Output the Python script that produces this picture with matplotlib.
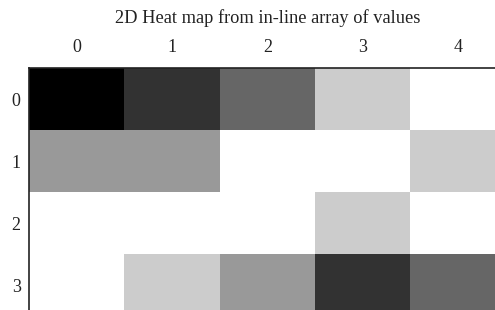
import matplotlib.pyplot as plt
import numpy as np

plt.rcParams["font.family"] = ["Liberation Serif", "DejaVu Serif"]

TITLE = "2D Heat map from in-line array of values"
X_TICKS = [0, 1, 2, 3, 4]
Y_TICKS = [0, 1, 2, 3]
ROW_0 = [5, 4, 3, 1, 0]
ROW_1 = [2, 2, 0, 0, 1]
ROW_2 = [0, 0, 0, 1, 0]
ROW_3 = [0, 1, 2, 4, 3]


def main() -> None:
    values = np.array([ROW_0, ROW_1, ROW_2, ROW_3], dtype=float)

    fig = plt.figure(figsize=(4.95, 3.10), dpi=100)
    # axes runs past the right and bottom edges, like the reference
    ax = fig.add_axes([29 / 495, -6 / 310, 476.5 / 495, 248 / 310])
    ax.imshow(
        values,
        cmap="gray_r",
        vmin=0,
        vmax=5,
        interpolation="nearest",
        aspect="auto",
        extent=(-0.5, 4.5, 3.5, -0.5),
    )
    ax.set_xlim(-0.5, 4.5)
    ax.set_ylim(3.5, -0.5)
    ax.xaxis.tick_top()
    ax.set_xticks(X_TICKS)
    ax.set_yticks(Y_TICKS)
    ax.set_xticklabels([str(t) for t in X_TICKS])
    ax.set_yticklabels([str(t) for t in Y_TICKS])
    ax.tick_params(axis="both", length=0, labelsize=13, colors="#222222")
    ax.tick_params(axis="x", pad=9)
    ax.tick_params(axis="y", pad=6)
    for side in ("left", "top"):
        ax.spines[side].set_color("#222222")
        ax.spines[side].set_linewidth(1.2)
    fig.text(0.54, 1 - 18 / 310, TITLE, ha="center", va="center", fontsize=13.2, color="#222222")
    fig.savefig("out.png", dpi=100)
    plt.close(fig)


if __name__ == "__main__":
    main()
